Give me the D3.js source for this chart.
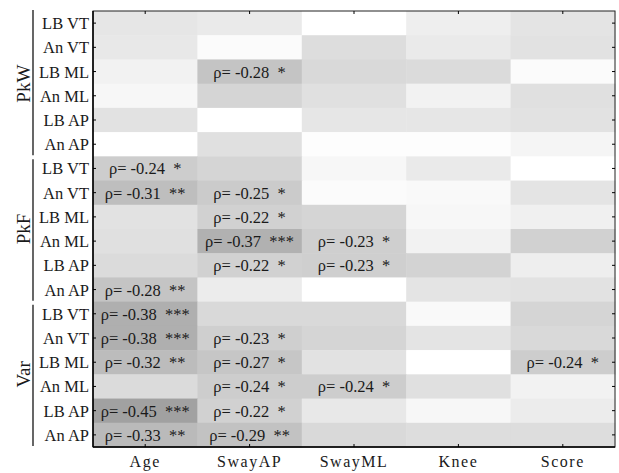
<!DOCTYPE html>
<html>
<head>
<meta charset="utf-8">
<script src="https://cdn.jsdelivr.net/npm/d3@7"></script>
<style>
  body { margin: 0; background: #fff; }
  svg text { font-family: "Liberation Serif", "Times New Roman", serif; fill: #1a1a1a; }
</style>
</head>
<body>
<svg id="chart" width="619" height="473"></svg>
<script>
const columns = ["Age", "SwayAP", "SwayML", "Knee", "Score"];
const rowNames = ["LB VT", "An VT", "LB ML", "An ML", "LB AP", "An AP"];
const groups = ["PkW", "PkF", "Var"];

// correlation per row (group x row), columns in order above
const rhoPkW = [
    [-0.12, -0.10, 0.00, -0.08, -0.13],
    [-0.11, -0.02, -0.16, -0.10, -0.14],
    [-0.06, -0.28, -0.18, -0.17, -0.02],
    [-0.04, -0.20, -0.15, -0.06, -0.15],
    [-0.14, 0.00, -0.12, -0.12, -0.14],
    [0.00, -0.15, -0.01, -0.01, -0.05]
];
const rhoPkF = [
    [-0.24, -0.20, -0.04, -0.10, 0.00],
    [-0.31, -0.25, -0.02, -0.03, -0.13],
    [-0.14, -0.22, -0.20, -0.04, -0.07],
    [-0.15, -0.37, -0.23, -0.06, -0.22],
    [-0.17, -0.22, -0.23, -0.21, -0.08],
    [-0.28, -0.09, 0.00, -0.13, -0.14]
];
const rhoVar = [
    [-0.38, -0.18, -0.18, -0.03, -0.20],
    [-0.38, -0.23, -0.20, -0.13, -0.18],
    [-0.32, -0.27, -0.14, 0.00, -0.24],
    [-0.17, -0.24, -0.24, -0.15, -0.06],
    [-0.45, -0.22, -0.11, -0.04, -0.09],
    [-0.33, -0.29, -0.18, -0.16, -0.16]
];

// significance stars, "" = not shown
const starsPkW = [
    ["", "", "", "", ""],
    ["", "", "", "", ""],
    ["", "*", "", "", ""],
    ["", "", "", "", ""],
    ["", "", "", "", ""],
    ["", "", "", "", ""]
];
const starsPkF = [
    ["*", "", "", "", ""],
    ["**", "*", "", "", ""],
    ["", "*", "", "", ""],
    ["", "***", "*", "", ""],
    ["", "*", "*", "", ""],
    ["**", "", "", "", ""]
];
const starsVar = [
    ["***", "", "", "", ""],
    ["***", "*", "", "", ""],
    ["**", "*", "", "", "*"],
    ["", "*", "*", "", ""],
    ["***", "*", "", "", ""],
    ["**", "**", "", "", ""]
];

const rhoAll = [rhoPkW, rhoPkF, rhoVar];
const starsAll = [starsPkW, starsPkF, starsVar];

// flatten into cells
const rowLabels = [];
const cells = [];
groups.forEach((g, gi) => {
    rowNames.forEach((r, ri) => {
        const rowIndex = gi * rowNames.length + ri;
        rowLabels.push(rowIndex);
        columns.forEach((c, ci) => {
            cells.push({
                row: rowIndex,
                col: c,
                rho: rhoAll[gi][ri][ci],
                stars: starsAll[gi][ri][ci]
            });
        });
    });
});

const svg = d3.select("#chart");
const plotLeft = 93, plotRight = 615, plotTop = 11, plotBottom = 447;

const x = d3.scaleBand().domain(columns).range([plotLeft, plotRight]);
const y = d3.scaleBand().domain(rowLabels).range([plotTop, plotBottom]);

// 0 -> white, more negative -> darker
const grey = d3.scaleLinear().domain([-0.5, 0]).range([150, 255]).clamp(true);
const fill = rho => {
    const v = Math.round(grey(rho));
    return `rgb(${v},${v},${v})`;
};

svg.append("g")
    .selectAll("rect")
    .data(cells)
    .enter()
    .append("rect")
    .attr("x", d => x(d.col))
    .attr("y", d => y(d.row))
    .attr("width", x.bandwidth() + 0.5)
    .attr("height", y.bandwidth() + 0.5)
    .style("fill", d => fill(d.rho));

// cell labels for significant ones
svg.append("g")
    .selectAll("text")
    .data(cells.filter(d => d.stars !== ""))
    .enter()
    .append("text")
    .attr("x", d => x(d.col) + x.bandwidth() / 2)
    .attr("y", d => y(d.row) + y.bandwidth() / 2 + 6)
    .attr("text-anchor", "middle")
    .style("font-size", "16.5px")
    .style("white-space", "pre")
    .text(d => `ρ= ${d.rho.toFixed(2)}  ${d.stars}`);

// frame
svg.append("rect")
    .attr("x", plotLeft)
    .attr("y", plotTop)
    .attr("width", plotRight - plotLeft)
    .attr("height", plotBottom - plotTop)
    .style("fill", "none")
    .style("stroke", "#222")
    .style("stroke-width", 1);

svg.append("line")
    .attr("x1", plotLeft).attr("x2", plotLeft)
    .attr("y1", plotTop).attr("y2", plotBottom)
    .style("stroke", "#000").style("stroke-width", 1.5);
svg.append("line")
    .attr("x1", plotLeft).attr("x2", plotRight)
    .attr("y1", plotBottom).attr("y2", plotBottom)
    .style("stroke", "#000").style("stroke-width", 1.5);

// ticks, pointing inward
const tickLen = 3;
const tickG = svg.append("g").style("stroke", "#000").style("stroke-width", 1);
columns.forEach(c => {
    const cx = x(c) + x.bandwidth() / 2;
    tickG.append("line").attr("x1", cx).attr("x2", cx).attr("y1", plotTop).attr("y2", plotTop + tickLen);
    tickG.append("line").attr("x1", cx).attr("x2", cx).attr("y1", plotBottom).attr("y2", plotBottom - tickLen);
});
rowLabels.forEach(r => {
    const cy = y(r) + y.bandwidth() / 2;
    tickG.append("line").attr("x1", plotLeft).attr("x2", plotLeft + tickLen).attr("y1", cy).attr("y2", cy);
    tickG.append("line").attr("x1", plotRight).attr("x2", plotRight - tickLen).attr("y1", cy).attr("y2", cy);
});

// y tick labels
svg.append("g")
    .selectAll("text")
    .data(rowLabels)
    .enter()
    .append("text")
    .attr("x", plotLeft - 4)
    .attr("y", d => y(d) + y.bandwidth() / 2 + 6)
    .attr("text-anchor", "end")
    .style("font-size", "16.5px")
    .text(d => rowNames[d % rowNames.length]);

// x tick labels
svg.append("g")
    .selectAll("text")
    .data(columns)
    .enter()
    .append("text")
    .attr("x", d => x(d) + x.bandwidth() / 2)
    .attr("y", 467)
    .attr("text-anchor", "middle")
    .style("font-size", "16px")
    .style("letter-spacing", "1.5px")
    .text(d => d);

// group brackets + labels
groups.forEach((g, gi) => {
    const y0 = y(gi * rowNames.length);
    const y1 = y(gi * rowNames.length + rowNames.length - 1) + y.bandwidth();
    svg.append("line")
        .attr("x1", 33).attr("x2", 33)
        .attr("y1", y0 + (gi === 0 ? -1 : 3))
        .attr("y2", y1 - 1)
        .style("stroke", "#000")
        .style("stroke-width", 1.2);
    svg.append("text")
        .attr("transform", `translate(30, ${(y0 + y1) / 2}) rotate(-90)`)
        .attr("text-anchor", "middle")
        .style("font-size", "19px")
        .text(g);
});
</script>
</body>
</html>
